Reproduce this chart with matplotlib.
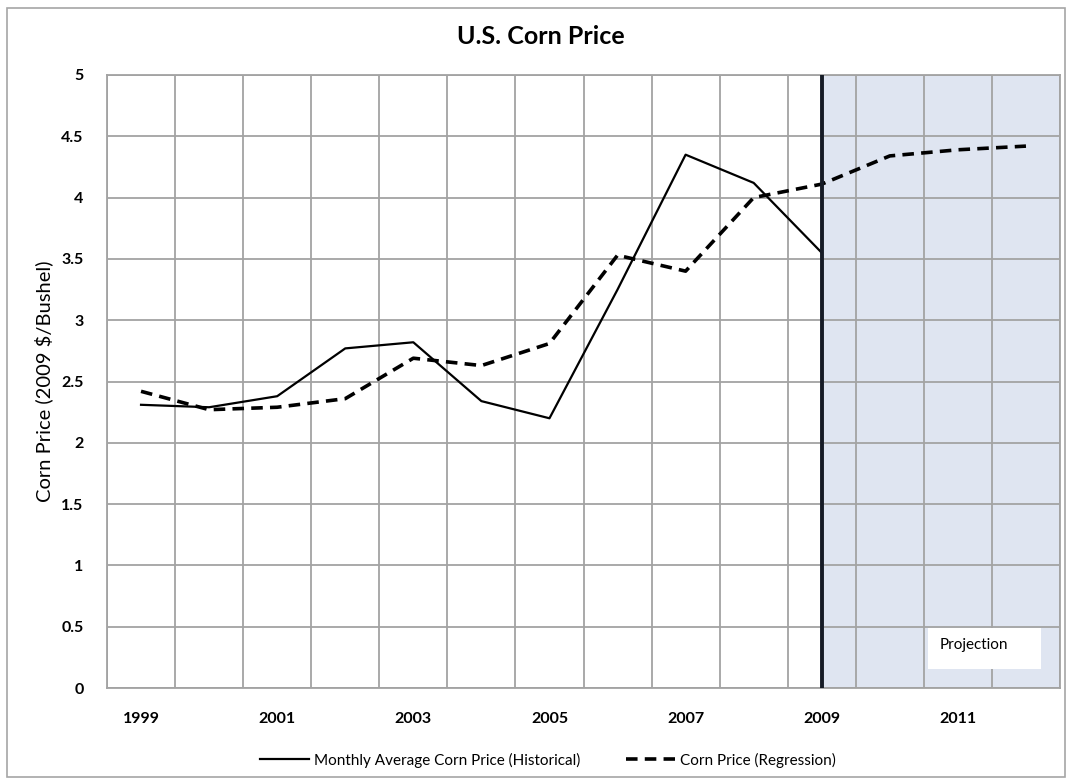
import matplotlib
matplotlib.use("Agg")
import matplotlib.pyplot as plt
from matplotlib.patches import Rectangle
import numpy as np

plt.rcParams['font.family'] = ['Lato', 'DejaVu Sans']

years = [1999, 2000, 2001, 2002, 2003, 2004, 2005, 2006, 2007, 2008, 2009, 2010, 2011, 2012]
historical = [2.31, 2.29, 2.38, 2.77, 2.82, 2.34, 2.20, 3.25, 4.35, 4.12, 3.55]
regression = [2.42, 2.27, 2.29, 2.36, 2.69, 2.63, 2.81, 3.53, 3.40, 4.00, 4.11, 4.34, 4.39, 4.42]
yticks = [0, 0.5, 1, 1.5, 2, 2.5, 3, 3.5, 4, 4.5, 5]
ytick_labels = ['0', '0.5', '1', '1.5', '2', '2.5', '3', '3.5', '4', '4.5', '5']
proj_start = 2009

W, H = 1068, 780
fig = plt.figure(figsize=(W / 100, H / 100), dpi=100)
ax = fig.add_axes([107 / W, (H - 688) / H, (1060 - 107) / W, (688 - 75) / H])

# outer chart border
fig.patches.append(Rectangle((7 / W, 3 / H), (1065 - 7) / W, (772 - 3) / H,
                             transform=fig.transFigure, fill=False,
                             edgecolor='#a6a6a6', lw=1.2))

x = np.arange(len(years))
xh = x[:len(historical)]
ip = years.index(proj_start)

ax.axvspan(ip, len(years) - 0.5, color='#dfe5f1', zorder=0.2, lw=0)
ax.plot(xh, historical, color='black', lw=1.6, zorder=3,
        label='Monthly Average Corn Price (Historical)')
ax.plot(x, regression, color='black', lw=2.6, ls=(0, (3.2, 2.0)), zorder=3,
        label='Corn Price (Regression)')
ax.axvline(ip, color='#161b26', lw=2.8, zorder=4)

ax.set_xlim(-0.5, len(years) - 0.5)
ax.set_ylim(0, 5)
ax.set_axisbelow(True)

ax.set_xticks(np.arange(-0.5, len(years), 1.0))
ax.set_xticklabels([])
ax.set_xticks(x[::2], minor=True)
ax.set_xticklabels([str(y) for y in years[::2]], minor=True)
ax.set_yticks(yticks)
ax.set_yticklabels(ytick_labels)
ax.tick_params(axis='both', which='both', length=0)
ax.tick_params(axis='x', which='minor', pad=17, labelsize=11.5)
ax.tick_params(axis='y', pad=17, labelsize=11.5)
for lab in ax.get_xticklabels(minor=True) + ax.get_yticklabels():
    lab.set_fontweight('bold')

ax.grid(True, which='major', color='#a3a3a3', lw=1.3)
for s in ax.spines.values():
    s.set_color('#a3a3a3')
    s.set_linewidth(1.3)

ax.set_ylabel('Corn Price (2009 $/Bushel)', fontsize=14.5, labelpad=6)
fig.text(541 / W, 1 - 37 / H, 'U.S. Corn Price', ha='center', va='center',
         fontsize=18, fontweight='bold')

# projection label box
ax.add_patch(Rectangle((0.8615, 0.031), 0.1185, 0.067, transform=ax.transAxes,
                       fc='white', ec='none', zorder=5))
ax.text(0.874, 0.070, 'Projection', transform=ax.transAxes, fontsize=11,
        ha='left', va='center', zorder=6)

fig.legend(loc='center', bbox_to_anchor=(548 / W, 1 - 760 / H), ncol=2,
           frameon=False, fontsize=11, handlelength=3.2, columnspacing=3.0,
           handletextpad=0.3)

fig.savefig('out.png', dpi=100)
